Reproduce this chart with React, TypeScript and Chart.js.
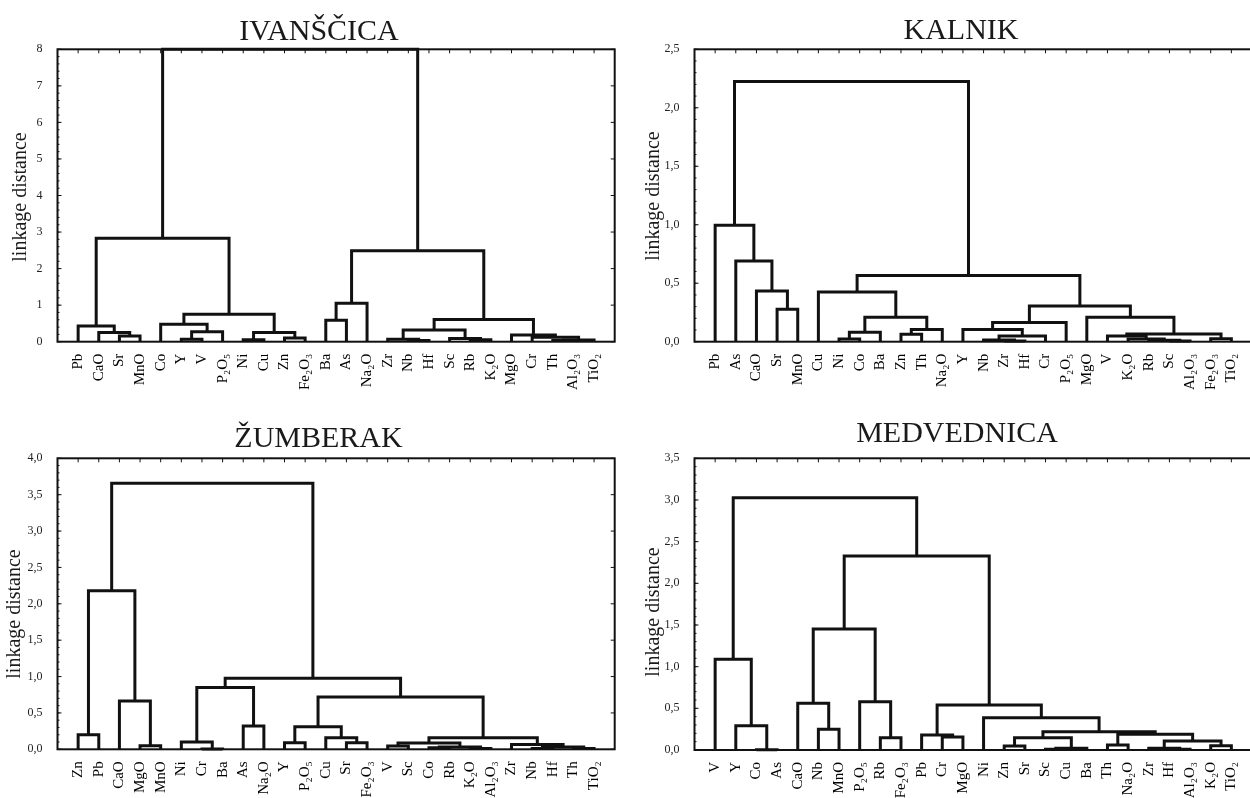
import React, { useEffect, useRef } from "react";
import { Chart, registerables } from "chart.js";

Chart.register(...registerables);

// ---------- DATA ----------
// merges: [left member, right member, linkage distance]; "#k" refers to the k-th merge
type Merge = [string, string, number];

const ivanscicaLeaves = ["Pb", "CaO", "Sr", "MnO", "Co", "Y", "V", "P₂O₅", "Ni", "Cu", "Zn", "Fe₂O₃", "Ba", "As", "Na₂O", "Zr", "Nb", "Hf", "Sc", "Rb", "K₂O", "MgO", "Cr", "Th", "Al₂O₃", "TiO₂"];
const ivanscicaMerges: Merge[] = [
  ["Sr", "MnO", 0.155], ["CaO", "#0", 0.255], ["Pb", "#1", 0.43],
  ["Y", "V", 0.07], ["#3", "P₂O₅", 0.27], ["Co", "#4", 0.48],
  ["Ni", "Cu", 0.05], ["Zn", "Fe₂O₃", 0.1], ["#6", "#7", 0.255],
  ["#5", "#8", 0.75], ["#2", "#9", 2.83],
  ["Ba", "As", 0.59], ["#11", "Na₂O", 1.05],
  ["Nb", "Hf", 0.03], ["Zr", "#13", 0.07], ["Rb", "K₂O", 0.05], ["Sc", "#15", 0.09], ["#14", "#16", 0.32],
  ["Th", "Al₂O₃", 0.03], ["#18", "TiO₂", 0.045], ["Cr", "#19", 0.12], ["MgO", "#20", 0.18],
  ["#17", "#21", 0.61], ["#12", "#22", 2.49], ["#10", "#23", 8.0],
];

const kalnikLeaves = ["Pb", "As", "CaO", "Sr", "MnO", "Cu", "Ni", "Co", "Ba", "Zn", "Th", "Na₂O", "Y", "Nb", "Zr", "Hf", "Cr", "P₂O₅", "MgO", "V", "K₂O", "Rb", "Sc", "Al₂O₃", "Fe₂O₃", "TiO₂"];
const kalnikMerges: Merge[] = [
  ["Sr", "MnO", 0.277], ["CaO", "#0", 0.433], ["As", "#1", 0.69], ["Pb", "#2", 0.995],
  ["Ni", "Co", 0.023], ["#4", "Ba", 0.08], ["Zn", "Th", 0.063], ["#6", "Na₂O", 0.105],
  ["#5", "#7", 0.208], ["Cu", "#8", 0.425],
  ["Zr", "Hf", 0.005], ["Nb", "#10", 0.015], ["#11", "Cr", 0.048], ["Y", "#12", 0.105], ["#13", "P₂O₅", 0.165],
  ["Sc", "Al₂O₃", 0.005], ["Rb", "#15", 0.012], ["K₂O", "#16", 0.023], ["V", "#17", 0.048],
  ["Fe₂O₃", "TiO₂", 0.026], ["#18", "#19", 0.065], ["MgO", "#20", 0.208],
  ["#14", "#21", 0.305], ["#9", "#22", 0.567], ["#3", "#23", 2.224],
];

const zumberakLeaves = ["Zn", "Pb", "CaO", "MgO", "MnO", "Ni", "Cr", "Ba", "As", "Na₂O", "Y", "P₂O₅", "Cu", "Sr", "Fe₂O₃", "V", "Sc", "Co", "Rb", "K₂O", "Al₂O₃", "Zr", "Nb", "Hf", "Th", "TiO₂"];
const zumberakMerges: Merge[] = [
  ["Zn", "Pb", 0.2], ["MgO", "MnO", 0.05], ["CaO", "#1", 0.665], ["#0", "#2", 2.18],
  ["Cr", "Ba", 0.005], ["Ni", "#4", 0.1], ["As", "Na₂O", 0.32], ["#5", "#6", 0.85],
  ["Y", "P₂O₅", 0.09], ["Sr", "Fe₂O₃", 0.09], ["Cu", "#9", 0.16], ["#8", "#10", 0.31],
  ["V", "Sc", 0.045], ["Co", "Rb", 0.02], ["K₂O", "Al₂O₃", 0.01], ["#13", "#14", 0.03], ["#12", "#15", 0.085],
  ["Nb", "Hf", 0.01], ["Th", "TiO₂", 0.01], ["#17", "#18", 0.03], ["Zr", "#19", 0.065],
  ["#16", "#20", 0.16], ["#11", "#21", 0.72], ["#7", "#22", 0.976], ["#3", "#23", 3.657],
];

const medvednicaLeaves = ["V", "Y", "Co", "As", "CaO", "Nb", "MnO", "P₂O₅", "Rb", "Fe₂O₃", "Pb", "Cr", "MgO", "Ni", "Zn", "Sr", "Sc", "Cu", "Ba", "Th", "Na₂O", "Zr", "Hf", "Al₂O₃", "K₂O", "TiO₂"];
const medvednicaMerges: Merge[] = [
  ["Co", "As", 0.003], ["Y", "#0", 0.29], ["V", "#1", 1.09],
  ["Nb", "MnO", 0.25], ["CaO", "#3", 0.56], ["Rb", "Fe₂O₃", 0.148], ["P₂O₅", "#5", 0.58], ["#4", "#6", 1.452],
  ["Cr", "MgO", 0.155], ["Pb", "#8", 0.18],
  ["Zn", "Sr", 0.048], ["Sc", "Cu", 0.01], ["#11", "Ba", 0.02], ["#10", "#12", 0.148],
  ["Th", "Na₂O", 0.06], ["Hf", "Al₂O₃", 0.01], ["Zr", "#15", 0.02], ["K₂O", "TiO₂", 0.052], ["#16", "#17", 0.108],
  ["#14", "#18", 0.188], ["#13", "#19", 0.22], ["Ni", "#20", 0.388], ["#9", "#21", 0.54],
  ["#7", "#22", 2.328], ["#2", "#23", 3.028],
];

const titles = ["IVANŠČICA", "KALNIK", "ŽUMBERAK", "MEDVEDNICA"];
const yMaxes = [8, 2.5, 4, 3.5];
const ySteps = [1, 0.5, 0.5, 0.5];
const yAxisTitle = "linkage distance";

// ---------- LAYOUT / STYLE ----------
const SERIF = "'Liberation Serif', 'Times New Roman', 'DejaVu Serif', serif";
const INK = "#111";
const CW = 630;
const CH = 415;

const layouts = [
  { left: 0, top: 0, areaLeft: 57.5, areaRight: 614.7, areaTop: 49.3, areaBottom: 341.7, titleX: 319, titleY: 40, yLabelX: 21, yLabelY: 197, rightTicks: true },
  { left: 630, top: 0, areaLeft: 64.5, areaRight: 622, areaTop: 49.3, areaBottom: 341.7, titleX: 331, titleY: 39, yLabelX: 24, yLabelY: 196, rightTicks: false },
  { left: 0, top: 400, areaLeft: 57.5, areaRight: 614.7, areaTop: 58.3, areaBottom: 349.3, titleX: 318.5, titleY: 47, yLabelX: 15, yLabelY: 214, rightTicks: true },
  { left: 630, top: 400, areaLeft: 64.5, areaRight: 622, areaTop: 58.3, areaBottom: 350, titleX: 327, titleY: 42, yLabelX: 24, yLabelY: 212, rightTicks: false },
];

const panelData = [
  { leaves: ivanscicaLeaves, merges: ivanscicaMerges },
  { leaves: kalnikLeaves, merges: kalnikMerges },
  { leaves: zumberakLeaves, merges: zumberakMerges },
  { leaves: medvednicaLeaves, merges: medvednicaMerges },
];

// dendrogram layout: leaf i sits at x = i+1, a cluster at the mean of its two members
function buildLinks(leaves: string[], merges: Merge[]) {
  const pos: Record<string, number> = {};
  const ht: Record<string, number> = {};
  leaves.forEach((n, i) => { pos[n] = i + 1; ht[n] = 0; });
  return merges.map(([a, b, h], k) => {
    const pts = [
      { x: pos[a], y: ht[a] }, { x: pos[a], y: h },
      { x: pos[b], y: h }, { x: pos[b], y: ht[b] },
    ];
    pos["#" + k] = (pos[a] + pos[b]) / 2;
    ht["#" + k] = h;
    return pts;
  });
}

const framePlugin = {
  id: "frame",
  afterDraw(chart: any) {
    const o = chart.options.plugins.frame;
    const { ctx, chartArea: a } = chart;
    const xs = chart.scales.x;
    const ys = chart.scales.y;
    ctx.save();
    ctx.strokeStyle = INK;
    ctx.lineWidth = 2;
    ctx.strokeRect(a.left, a.top, a.right - a.left, a.bottom - a.top);
    ctx.lineWidth = 1;
    ctx.beginPath();
    xs.ticks.forEach((t: any) => {
      const px = xs.getPixelForValue(t.value);
      ctx.moveTo(px, a.top); ctx.lineTo(px, a.top + 4);
    });
    ys.ticks.forEach((t: any) => {
      const py = ys.getPixelForValue(t.value);
      ctx.moveTo(a.left, py); ctx.lineTo(a.left + 4, py);
      if (o.rightTicks) { ctx.moveTo(a.right, py); ctx.lineTo(a.right - 4, py); }
    });
    const minor = o.step / 5;
    for (let v = 0; v <= o.max + 1e-9; v += minor) {
      const py = ys.getPixelForValue(v);
      ctx.moveTo(a.left, py); ctx.lineTo(a.left + 2, py);
    }
    ctx.stroke();

    ctx.fillStyle = "#1a1a1a";
    ctx.font = `30px ${SERIF}`;
    ctx.textAlign = "center";
    ctx.textBaseline = "alphabetic";
    ctx.fillText(o.title, o.titleX, o.titleY);

    ctx.font = `20px ${SERIF}`;
    ctx.translate(o.yLabelX, o.yLabelY);
    ctx.rotate(-Math.PI / 2);
    ctx.textBaseline = "middle";
    ctx.fillText(yAxisTitle, 0, 0);
    ctx.restore();
  },
};

function Panel({ idx }: { idx: number }) {
  const ref = useRef<HTMLCanvasElement | null>(null);
  const L = layouts[idx];
  useEffect(() => {
    const { leaves, merges } = panelData[idx];
    const links = buildLinks(leaves, merges);
    const max = yMaxes[idx];
    const step = ySteps[idx];
    const chart = new Chart(ref.current as HTMLCanvasElement, {
      type: "line",
      data: {
        datasets: links.map((pts) => ({
          data: pts,
          borderColor: INK,
          borderWidth: 3,
          pointRadius: 0,
          tension: 0,
          fill: false,
          clip: false as any,
          borderJoinStyle: "miter" as const,
          borderCapStyle: "butt" as const,
        })),
      },
      options: {
        animation: false,
        responsive: false,
        events: [],
        layout: { padding: { left: 0, top: L.areaTop, right: CW - L.areaRight, bottom: 0 } },
        scales: {
          x: {
            type: "linear",
            min: 0,
            max: leaves.length + 1,
            afterBuildTicks: (s: any) => { s.ticks = leaves.map((_, i) => ({ value: i + 1 })); },
            afterFit: (s: any) => { s.height = CH - L.areaBottom; },
            grid: { display: false },
            border: { display: false },
            ticks: {
              autoSkip: false,
              minRotation: 90,
              maxRotation: 90,
              padding: 4,
              color: "#000",
              font: { family: SERIF, size: 15 },
              callback: (v: any) => leaves[Math.round(Number(v)) - 1] ?? "",
            },
          },
          y: {
            type: "linear",
            min: 0,
            max,
            afterFit: (s: any) => { s.width = L.areaLeft; },
            grid: { display: false },
            border: { display: false },
            ticks: {
              stepSize: step,
              padding: 7,
              color: "#222",
              font: { family: SERIF, size: 12 },
              callback: (v: any) => (step >= 1 ? String(v) : Number(v).toFixed(1).replace(".", ",")),
            },
          },
        },
        plugins: {
          legend: { display: false },
          tooltip: { enabled: false },
          frame: { title: titles[idx], titleX: L.titleX, titleY: L.titleY, yLabelX: L.yLabelX, yLabelY: L.yLabelY, max, step, rightTicks: L.rightTicks },
        } as any,
      },
      plugins: [framePlugin],
    });
    return () => chart.destroy();
  }, [idx]);
  return (
    <canvas
      ref={ref}
      width={CW}
      height={CH}
      style={{ position: "absolute", left: L.left, top: L.top, width: CW, height: CH }}
    />
  );
}

export default function App() {
  return (
    <div style={{ position: "fixed", left: 0, top: 0, width: 1250, height: 798, overflow: "hidden", background: "#fff" }}>
      {[0, 1, 2, 3].map((i) => <Panel key={i} idx={i} />)}
    </div>
  );
}
